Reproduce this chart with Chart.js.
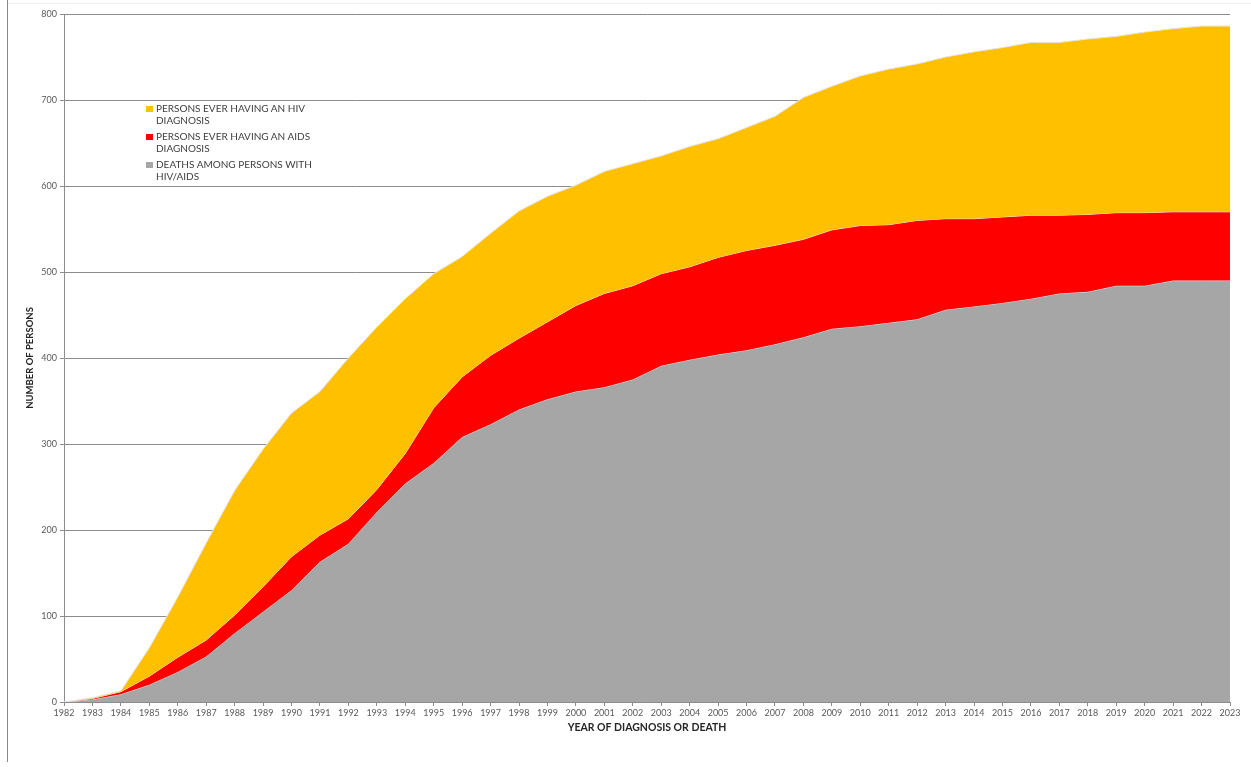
<!DOCTYPE html>
<html lang="en">

<head>
    <meta charset="UTF-8">
    <title>HIV/AIDS cumulative</title>
    <script src="https://cdn.jsdelivr.net/npm/chart.js"></script>
    <style>
        body {
            margin: 0;
            background: #ffffff;
        }

        .wrapper {
            position: relative;
            width: 1251px;
            height: 767px;
        }

        #myChart {
            position: absolute;
            left: 0;
            top: 0;
        }

        .borda-esq {
            position: absolute;
            left: 7px;
            top: 0;
            height: 762px;
            border-left: 1px solid #8a8a8a;
        }

        .borda-topo {
            position: absolute;
            left: 7px;
            top: 3px;
            width: 1244px;
            border-top: 1px solid #f0f0f0;
        }

        .legenda {
            position: absolute;
            left: 145px;
            top: 103px;
            font-family: Lato, "Open Sans", sans-serif;
            font-size: 10px;
            color: #404040;
            line-height: 11.5px;
        }

        .legenda .item {
            position: relative;
            padding-left: 11px;
            margin-bottom: 5px;
        }

        .legenda .cor {
            position: absolute;
            left: 1px;
            top: 3px;
            width: 7px;
            height: 6px;
        }
    </style>
</head>

<body>
    <div class="wrapper">
        <div class="borda-topo"></div>
        <div class="borda-esq"></div>
        <canvas id="myChart" width="1251" height="767"></canvas>
        <div class="legenda">
            <div class="item"><span class="cor" style="background:#FFC000"></span>PERSONS EVER HAVING AN HIV<br>DIAGNOSIS</div>
            <div class="item"><span class="cor" style="background:#FF0000"></span>PERSONS EVER HAVING AN AIDS<br>DIAGNOSIS</div>
            <div class="item"><span class="cor" style="background:#A6A6A6"></span>DEATHS AMONG PERSONS WITH<br>HIV/AIDS</div>
        </div>
    </div>

<script>
    // anos e series
    const anos = ['1982', '1983', '1984', '1985', '1986', '1987', '1988', '1989', '1990', '1991',
        '1992', '1993', '1994', '1995', '1996', '1997', '1998', '1999', '2000', '2001',
        '2002', '2003', '2004', '2005', '2006', '2007', '2008', '2009', '2010', '2011',
        '2012', '2013', '2014', '2015', '2016', '2017', '2018', '2019', '2020', '2021',
        '2022', '2023'];

    const diagHIV = [0, 5, 13, 63, 122, 185, 246, 294, 336, 361,
        400, 436, 469, 498, 518, 545, 571, 588, 601, 617,
        626, 635, 646, 655, 668, 681, 703, 716, 728, 736,
        742, 750, 756, 761, 767, 767, 771, 774, 779, 783,
        786, 786];

    const diagAIDS = [0, 4, 12, 30, 52, 72, 101, 134, 169, 194,
        213, 247, 289, 342, 378, 403, 423, 442, 461, 475,
        484, 498, 506, 517, 525, 531, 538, 549, 554, 555,
        560, 562, 562, 564, 566, 566, 567, 569, 569, 570,
        570, 570];

    const mortes = [0, 3, 9, 20, 35, 53, 80, 105, 130, 163,
        184, 221, 254, 278, 308, 323, 340, 352, 361, 366,
        375, 391, 398, 404, 409, 416, 424, 434, 437, 441,
        445, 456, 460, 464, 469, 475, 477, 484, 484, 490,
        490, 490];

    const yTicks = [0, 100, 200, 300, 400, 500, 600, 700, 800];

    const corTexto = '#595959';
    const corGrade = '#8c8c8c';

    window.onload = function () {
        desenharGrafico();
    };

    function desenharGrafico() {
        const ctx = document.getElementById('myChart').getContext('2d');
        const myChart = new Chart(ctx, {
            type: 'line',
            data: {
                labels: anos,
                datasets: [
                    {
                        label: 'PERSONS EVER HAVING AN HIV DIAGNOSIS',
                        data: diagHIV,
                        backgroundColor: '#FFC000',
                        borderColor: '#e6e6e6',
                        borderWidth: 1,
                        fill: '+1'
                    },
                    {
                        label: 'PERSONS EVER HAVING AN AIDS DIAGNOSIS',
                        data: diagAIDS,
                        backgroundColor: '#FF0000',
                        borderColor: '#e6e6e6',
                        borderWidth: 1,
                        fill: '+1'
                    },
                    {
                        label: 'DEATHS AMONG PERSONS WITH HIV/AIDS',
                        data: mortes,
                        backgroundColor: '#A6A6A6',
                        borderColor: '#e6e6e6',
                        borderWidth: 1,
                        fill: 'origin'
                    }
                ]
            },
            options: {
                responsive: false,
                animation: false,
                layout: {
                    padding: { left: 20, right: 21, top: 14, bottom: 29 }
                },
                elements: {
                    point: { radius: 0 },
                    line: { tension: 0 }
                },
                scales: {
                    x: {
                        offset: false,
                        grid: {
                            drawOnChartArea: false,
                            drawTicks: true,
                            tickLength: 4,
                            color: corGrade
                        },
                        border: { color: corGrade },
                        ticks: {
                            color: corTexto,
                            font: { family: 'Lato', size: 9 },
                            padding: 2,
                            maxRotation: 0,
                            autoSkip: false
                        },
                        title: {
                            display: true,
                            text: 'YEAR OF DIAGNOSIS OR DEATH',
                            color: '#262626',
                            font: { family: 'Lato', size: 10.5, weight: 'bold' },
                            padding: { top: 4, bottom: 4 }
                        },
                        afterFit: function (scale) {
                            scale.height = 36;
                        }
                    },
                    y: {
                        min: 0,
                        max: 800,
                        afterBuildTicks: function (scale) {
                            scale.ticks = yTicks.map(v => ({ value: v }));
                        },
                        grid: {
                            color: corGrade,
                            tickLength: 4
                        },
                        border: { color: corGrade },
                        ticks: {
                            color: corTexto,
                            font: { family: 'Lato', size: 9 },
                            padding: 3
                        },
                        title: {
                            display: true,
                            text: 'NUMBER OF PERSONS',
                            color: '#262626',
                            font: { family: 'Lato', size: 9.5, weight: 'bold' },
                            padding: { top: 4, bottom: 4 }
                        },
                        afterFit: function (scale) {
                            scale.width = 44;
                        }
                    }
                },
                plugins: {
                    legend: { display: false },
                    tooltip: { enabled: false }
                }
            }
        });
    }
</script>
</body>

</html>
